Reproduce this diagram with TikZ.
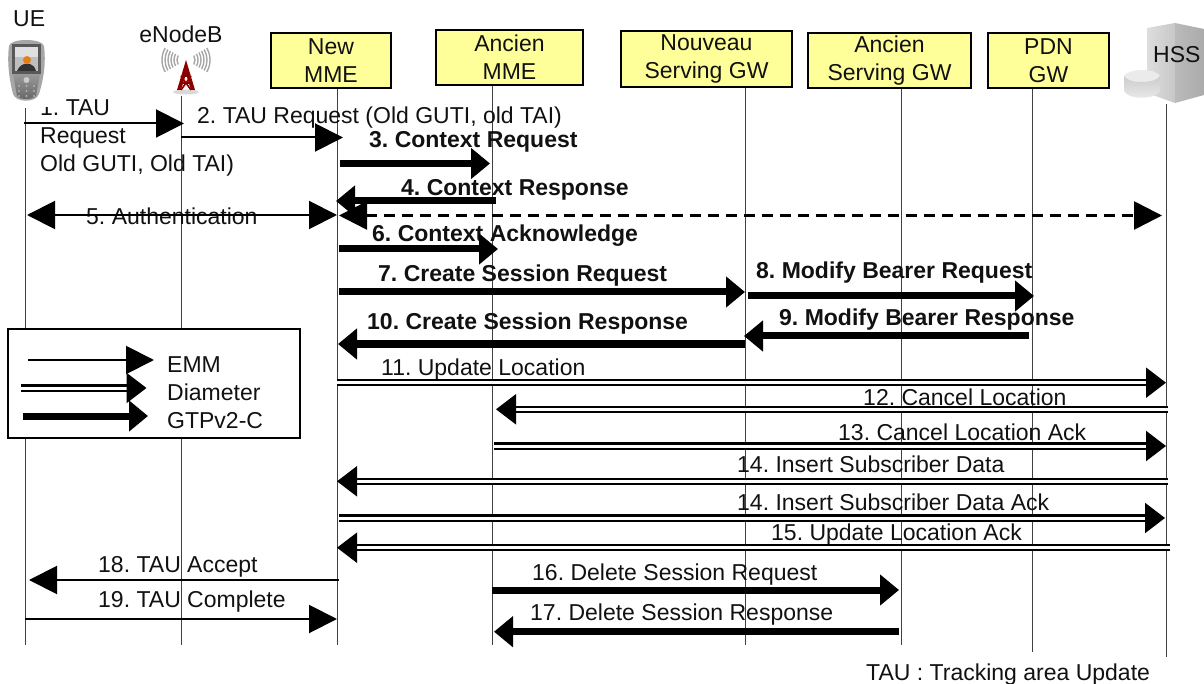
\documentclass[tikz,border=0pt]{standalone}
\usepackage{fontspec}
\setmainfont{Liberation Sans}
\usetikzlibrary{arrows.meta}
\definecolor{boxyellow}{HTML}{FFFF99}
\definecolor{txt}{HTML}{111111}
\frenchspacing
\tikzset{
  life/.style={line width=1pt,draw=black!75},
  lbl/.style={anchor=base west,inner sep=0pt,text=txt,font=\fontsize{23}{28}\selectfont\frenchspacing},
  lblb/.style={lbl,font=\fontsize{23}{28}\selectfont\bfseries\frenchspacing},
  ent/.style={draw=black,line width=2pt,fill=boxyellow,inner sep=0pt,align=center,text=txt,
    font=\fontsize{23}{28}\selectfont},
  emmhead/.style={-{Triangle[length=28pt,width=28pt]}},
  emm/.style={draw=black,line width=2pt,emmhead},
  emmboth/.style={draw=black,line width=2pt,{Triangle[length=28pt,width=28pt]}-{Triangle[length=28pt,width=28pt]}},
  dia/.style={draw=black,line width=2.2pt,double=white,double distance=3pt,-{Triangle[length=20pt,width=30pt]}},
  gtp/.style={draw=black,line width=7pt,-{Triangle[length=19pt,width=30pt]}},
  dashmsg/.style={draw=black,line width=2.6pt,dash pattern=on 11pt off 7pt,
    {Triangle[length=28pt,width=28pt]}-{Triangle[length=28pt,width=28pt]}}
}
\begin{document}
\begin{tikzpicture}[x=1pt,y=-1pt]
\useasboundingbox (0,0) rectangle (1204,684);
% lifeline ends
\coordinate (ueT) at (25.5,108);   \coordinate (ueB) at (25.5,645);
\coordinate (enbT) at (181.5,96);  \coordinate (enbB) at (181.5,645);
\coordinate (hssT) at (1166.5,104);\coordinate (hssB) at (1166.5,657);
\coordinate (newB) at (337.5,645);
\coordinate (oldB) at (492.5,645);
\coordinate (nsgB) at (745.5,645);
\coordinate (osgB) at (901,645);
\coordinate (pdnB) at (1032,652);
% entity boxes
\node[ent,minimum width=120pt,minimum height=55pt] (new) at (331,60.5) {New\\MME};
\node[ent,minimum width=147pt,minimum height=55pt] (old) at (509.5,57.5) {Ancien\\MME};
\node[ent,minimum width=171pt,minimum height=56pt] (nsg) at (706.5,59) {Nouveau\\Serving GW};
\node[ent,minimum width=163pt,minimum height=55pt] (osg) at (889.5,60.5) {Ancien\\Serving GW};
\node[ent,minimum width=121pt,minimum height=55pt] (pdn) at (1048.5,60.5) {PDN\\GW};
% lifelines
\draw[life] (ueT) -- (ueB);
\draw[life] (enbT) -- (enbB);
\draw[life] (new.south -| newB) -- (newB);
\draw[life] (old.south -| oldB) -- (oldB);
\draw[life] (nsg.south -| nsgB) -- (nsgB);
\draw[life] (osg.south -| osgB) -- (osgB);
\draw[life] (pdn.south -| pdnB) -- (pdnB);
\draw[life] (hssT) -- (hssB);
% labels
\node[lbl,align=left] (t1) at (40,172) {1. TAU\\Request\\Old GUTI, Old TAI)};
\node[lbl] (t2) at (197,124) {2. TAU Request (Old GUTI, old TAI)};
\node[lblb] (t3) at (369,147.7) {3. Context Request};
\node[lblb] (t4) at (401,196) {4. Context Response};
\node[lbl] (t5) at (86,225) {5. Authentication};
\node[lblb] (t6) at (372,242) {6. Context Acknowledge};
\node[lblb] (t7) at (378,281.7) {7. Create Session Request};
\node[lblb] (t8) at (756,278.7) {8. Modify Bearer Request};
\node[lblb] (t9) at (779,326) {9. Modify Bearer Response};
\node[lblb] (t10) at (367,330) {10. Create Session Response};
\node[lbl] (t11) at (381,375.7) {11. Update Location};
\node[lbl] (t12) at (863,405.7) {12. Cancel Location};
\node[lbl] (t13) at (838,440) {13. Cancel Location Ack};
\node[lbl] (t14) at (737,472.7) {14. Insert Subscriber Data};
\node[lbl] (t14b) at (737,510.7) {14. Insert Subscriber Data Ack};
\node[lbl] (t15) at (771,540.7) {15. Update Location Ack};
\node[lbl] (t16) at (532,580) {16. Delete Session Request};
\node[lbl] (t17) at (530,620) {17. Delete Session Response};
\node[lbl] (t18) at (98,572.7) {18. TAU Accept};
\node[lbl] (t19) at (98,607.7) {19. TAU Complete};
\node[lbl] (tau) at (866,680) {TAU : Tracking area Update};
\node[lbl] (ue) at (13,26.7) {UE};
\node[lbl,anchor=base] (enb) at (181,42.7) {eNodeB};
% phone icon (white backdrop hides the top of the label below it)
\fill[white] (4,34) rectangle (58,107);
\fill[black!35] (9,46) .. controls (10,38) and (42,38) .. (44,46)
   .. controls (46,62) and (44,78) .. (39,94)
   .. controls (36,103) and (16,103) .. (13,94)
   .. controls (9,78) and (7,62) .. (9,46) -- cycle;
\shade[top color=black!40,bottom color=black!60] (13,74) -- (40,74) -- (36,96)
   .. controls (32,100) and (20,100) .. (17,96) -- cycle;
\fill[black!65] (12,44) rectangle (41,74);
\fill[black!12] (15,47) rectangle (38,57);
\fill[black!25] (15,57) rectangle (38,71);
\fill[black!80] (17,71) .. controls (20,65) and (22,65) .. (24,64) -- (30,64)
   .. controls (33,65) and (35,67) .. (36,71) -- cycle;
\fill[orange!60!brown] (27,60) circle (4pt);
\fill[black!20] (26.5,80) circle (3pt);
\foreach \px in {19,26.5,34} \foreach \py in {86,91,96} {\fill[black!30] (\px,\py) circle (1.2pt);}
% antenna icon
\fill[black!15] (186,92) ellipse (13pt and 2.5pt);
\foreach \rr in {9,12,15,18,21,24} {
  \draw[black!35,line width=1.4pt] ([shift={(150:\rr pt)}]186,60) arc (150:210:\rr pt);
  \draw[black!35,line width=1.4pt] ([shift={(-30:\rr pt)}]186,60) arc (-30:30:\rr pt);
}
\fill[red!55!black] (186,60) -- (195,90) -- (191,90) -- (186,74) -- (181,90) -- (177,90) -- cycle;
\draw[red!55!black,line width=1.6pt] (182,76) -- (190,76) (180,83) -- (192,83) (181,76) -- (191,90) (191,76) -- (181,90);
% HSS icon
\shade[left color=black!13,right color=black!22] (1147,28) -- (1175,23) -- (1175,103) -- (1147,93) -- cycle;
\shade[left color=black!27,right color=black!33] (1175,23) -- (1204,29) -- (1204,95) -- (1175,103) -- cycle;
\fill[black!8] (1124,76) .. controls (1128,68) and (1156,68) .. (1160,76)
   .. controls (1156,84) and (1128,84) .. (1124,76) -- cycle;
\shade[top color=black!20,bottom color=black!8] (1124,76) .. controls (1128,84) and (1156,84) .. (1160,76)
   -- (1160,91) .. controls (1156,100) and (1128,100) .. (1124,91) -- cycle;
\node[lbl] (hss) at (1153,62.7) {HSS};
% messages
\coordinate (a1) at (24,123.5);  \coordinate (b1) at (184,123.5);  \draw[emm] (a1) -- (b1);
\coordinate (a2) at (181,137.5); \coordinate (b2) at (343,137.5);  \draw[emm] (a2) -- (b2);
\coordinate (a3) at (340,163.5); \coordinate (b3) at (490,163.5);  \draw[gtp] (a3) -- (b3);
\coordinate (a4) at (496,201);   \coordinate (b4) at (336,201);    \draw[gtp] (a4) -- (b4);
\coordinate (a5) at (27,215);    \coordinate (b5) at (337,215);    \draw[emmboth] (a5) -- (b5);
\coordinate (ax) at (339,215.5); \coordinate (bx) at (1162,215.5); \draw[dashmsg] (ax) -- (bx);
\coordinate (a6) at (339,249);   \coordinate (b6) at (498,249);    \draw[gtp] (a6) -- (b6);
\coordinate (a7) at (339,292);   \coordinate (b7) at (745,292);    \draw[gtp] (a7) -- (b7);
\coordinate (a8) at (748,296);   \coordinate (b8) at (1034,296);   \draw[gtp] (a8) -- (b8);
\coordinate (a9) at (1029,336);  \coordinate (b9) at (744,336);    \draw[gtp] (a9) -- (b9);
\coordinate (a10) at (745,344);  \coordinate (b10) at (338,344);   \draw[gtp] (a10) -- (b10);
\coordinate (a11) at (337,382.7);\coordinate (b11) at (1166,382.7);\draw[dia] (a11) -- (b11);
\coordinate (a12) at (1168,409.3);\coordinate (b12) at (496,409.3);\draw[dia] (a12) -- (b12);
\coordinate (a13) at (494,446);  \coordinate (b13) at (1166,446);  \draw[dia] (a13) -- (b13);
\coordinate (a14) at (1168,481.3);\coordinate (b14) at (337,481.3);\draw[dia] (a14) -- (b14);
\coordinate (a15) at (339,518);  \coordinate (b15) at (1165,518);  \draw[dia] (a15) -- (b15);
\coordinate (a16) at (1170,547.7);\coordinate (b16) at (337,547.7);\draw[dia] (a16) -- (b16);
\coordinate (a17) at (492,590);  \coordinate (b17) at (899,590);   \draw[gtp] (a17) -- (b17);
\coordinate (a18) at (899,631.7);\coordinate (b18) at (494,631.7); \draw[gtp] (a18) -- (b18);
\coordinate (a19) at (339,580);  \coordinate (b19) at (29,580);    \draw[emm] (a19) -- (b19);
\coordinate (a20) at (25,619);   \coordinate (b20) at (337,619);   \draw[emm] (a20) -- (b20);
% legend
\node[draw=black,line width=2pt,fill=white,minimum width=292pt,minimum height=109pt,inner sep=0pt] (legend) at (154,383.5) {};
\coordinate (la) at (28,360);  \coordinate (lb) at (154,360);  \draw[emm] (la) -- (lb);
\coordinate (lc) at (21,388);  \coordinate (ld) at (146.5,388);\draw[dia] (lc) -- (ld);
\coordinate (le) at (23,416);  \coordinate (lf) at (148,416);  \draw[gtp] (le) -- (lf);
\node[lbl] (lemm) at (167,372) {EMM};
\node[lbl] (ldia) at (167,400) {Diameter};
\node[lbl] (lgtp) at (167,428) {GTPv2-C};
\end{tikzpicture}
\end{document}
